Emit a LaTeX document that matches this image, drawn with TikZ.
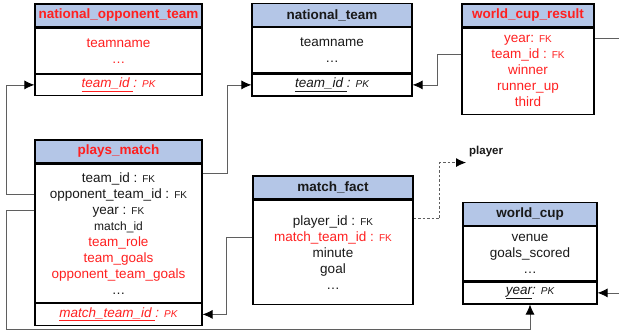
\documentclass[tikz,border=0pt]{standalone}
\usepackage{fontspec}
\setmainfont{Liberation Sans}
\usetikzlibrary{arrows.meta,positioning}

\definecolor{hdrblue}{RGB}{180,198,231}
\definecolor{fieldred}{RGB}{255,32,32}
\definecolor{linkgray}{RGB}{95,95,95}
\definecolor{txtdark}{RGB}{25,25,25}

\newcommand{\fkey}{{\fontsize{10}{12}\selectfont FK}}
\newcommand{\pkey}{{\fontsize{10}{12}\selectfont PK}}

\tikzset{
  hdr/.style={draw, line width=1.2pt, fill=hdrblue, minimum width=#1, minimum height=23pt,
    inner sep=0pt, font=\fontsize{13.5}{16}\selectfont\bfseries},
  attrs/.style 2 args={draw, line width=1.2pt, minimum width=#1, minimum height=#2,
    inner sep=0pt, align=center, font=\fontsize{13.5}{16}\selectfont},
  keyrow/.style={draw, line width=1.2pt, minimum width=#1, minimum height=22pt,
    inner sep=0pt, font=\fontsize{13.5}{16}\selectfont\itshape},
  link/.style={draw=linkgray, line width=0.8pt},
  tip/.style={-{Latex[length=10pt, width=9pt, color=black]}},
}

\begin{document}
\begin{tikzpicture}[x=1pt, y=-1pt, text=txtdark]
  \useasboundingbox (0,0) rectangle (619,332);

  % national_opponent_team
  \node[hdr=167pt, text=fieldred] (opp_hdr) at (118.5,15.5) {national\_opponent\_team};
  \node[attrs={167pt}{45pt}, text=fieldred, below=0pt of opp_hdr] (opp_body) {teamname\\\dots};
  \node[keyrow=167pt, minimum height=21pt, text=fieldred, below=0pt of opp_body] (opp_key) {\underline{team\_id }: \pkey};

  % national_team
  \node[hdr=160pt] (team_hdr) at (332,15) {national\_team};
  \node[attrs={160pt}{45pt}, below=0pt of team_hdr] (team_body) {teamname\\\dots};
  \node[keyrow=160pt, below=0pt of team_body] (team_key) {\underline{team\_id }: \pkey};

  % world_cup_result
  \node[hdr=132pt, text=fieldred] (wcr_hdr) at (528,15.5) {world\_cup\_result};
  \node[attrs={132pt}{86pt}, text=fieldred, below=0pt of wcr_hdr] (wcr_body)
    {year: \fkey\\team\_id : \fkey\\winner\\runner\_up\\third};

  % plays_match
  \node[hdr=167pt, text=fieldred] (plays_hdr) at (118.5,151.5) {plays\_match};
  \node[attrs={167pt}{138pt}, below=0pt of plays_hdr] (plays_body)
    {team\_id : \fkey\\opponent\_team\_id : \fkey\\year : \fkey\\
     {\fontsize{12}{16}\selectfont match\_id}\\
     \textcolor{fieldred}{team\_role}\\\textcolor{fieldred}{team\_goals}\\
     \textcolor{fieldred}{opponent\_team\_goals}\\\dots};
  \node[keyrow=167pt, text=fieldred, below=0pt of plays_body] (plays_key) {\underline{match\_team\_id }: \pkey};

  % match_fact
  \node[hdr=160pt] (fact_hdr) at (333,187.5) {match\_fact};
  \node[attrs={160pt}{104pt}, below=0pt of fact_hdr] (fact_body)
    {player\_id : \fkey\\\textcolor{fieldred}{match\_team\_id : \fkey}\\minute\\goal\\\dots};

  % world_cup
  \node[hdr=134pt] (wc_hdr) at (530,214) {world\_cup};
  \node[attrs={134pt}{54pt}, below=0pt of wc_hdr] (wc_body) {venue\\goals\_scored\\\dots};
  \node[keyrow=134pt, below=0pt of wc_body] (wc_key) {\underline{year}: \pkey};

  \node[font=\fontsize{11.5}{14}\selectfont\bfseries, inner sep=0pt, anchor=west] (player) at (469,152) {player};

  % links
  \draw[link, tip] ([yshift=-10pt]plays_body.north east) -- ++(25,0) |- (team_key.west);
  \draw[link, tip] ([yshift=-31pt]plays_body.north west) -- ++(-28,0) |- (opp_key.west);
  \draw[link, tip] ([yshift=-47pt]plays_body.north west) -- ++(-28,0) coordinate (low)
    -- (low |- 0,329) -| (wc_key.south);
  \draw[link, tip] ([yshift=-38pt]fact_body.north west) -- ++(-26,0) |- (plays_key.east);
  \draw[link, tip, dashed, dash pattern=on 2.5pt off 2pt]
    ([yshift=-19pt]fact_body.north east) -- ++(26,0) |- ([xshift=-3pt,yshift=-5pt]player.south west);
  \draw[link, tip] ([yshift=-27pt]wcr_body.north west) -- ++(-24,0) |- (team_key.east);
  \draw[link, tip] ([yshift=-11pt]wcr_body.north east) -- ++(40,0) |- (wc_key.east);
\end{tikzpicture}
\end{document}
